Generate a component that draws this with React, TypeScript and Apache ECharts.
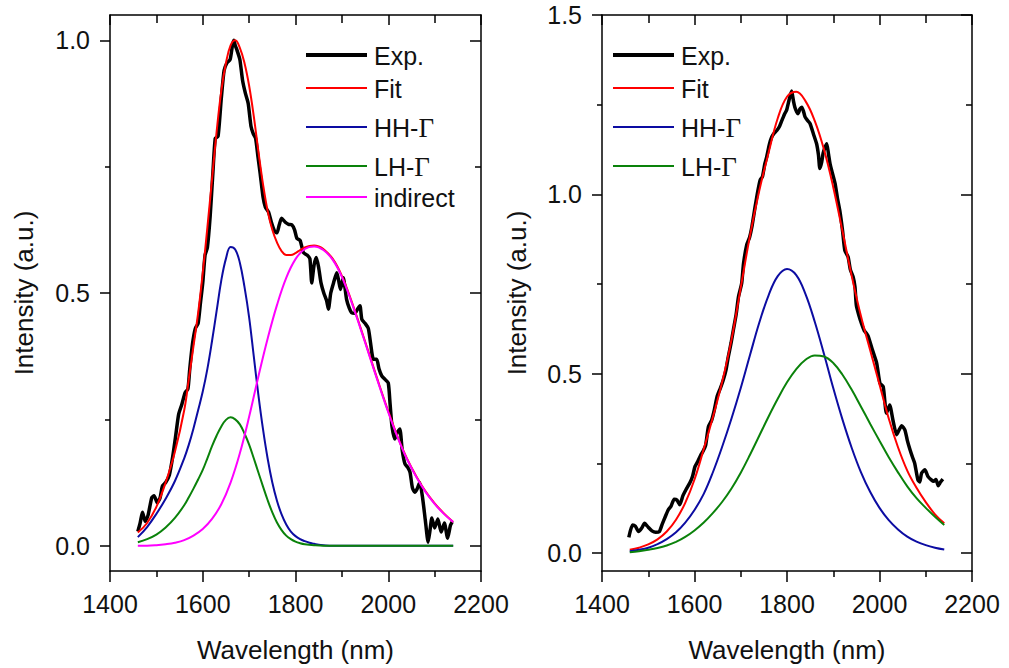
import React, { useEffect, useRef } from 'react';
import * as echarts from 'echarts';

const FONT = '"Liberation Sans", Arial, Helvetica, sans-serif';
const SERIF = '"Liberation Serif", "Times New Roman", serif';

const X_MIN = 1400;
const X_MAX = 2200;
const X_STEP = 200;

const LEFT_Y_MAJOR = [0, 0.5, 1.0];
const LEFT_Y_MINOR = [0.25, 0.75];
const RIGHT_Y_MAJOR = [0, 0.5, 1.0, 1.5];
const RIGHT_Y_MINOR = [0.25, 0.75, 1.25];

const LEFT_LEGEND = ['Exp.', 'Fit', 'HH-{g|Γ}', 'LH-{g|Γ}', 'indirect'];
const RIGHT_LEGEND = ['Exp.', 'Fit', 'HH-{g|Γ}', 'LH-{g|Γ}'];

const COLORS = ['#000000', '#ff0000', '#0c0ca2', '#0a820a', '#ff00ff'];

// ---------- left panel ----------
const LEFT_EXP = [
  [1460, 0.028], [1465, 0.045], [1470, 0.066], [1476, 0.048], [1482, 0.06], [1490, 0.095],
  [1495, 0.099], [1502, 0.085], [1508, 0.095], [1513, 0.118], [1520, 0.125], [1528, 0.14],
  [1535, 0.175], [1542, 0.22], [1548, 0.26], [1555, 0.28], [1562, 0.303], [1568, 0.31],
  [1572, 0.35], [1578, 0.4], [1584, 0.43], [1590, 0.44], [1595, 0.48], [1600, 0.52],
  [1605, 0.575], [1610, 0.59], [1616, 0.652], [1622, 0.74], [1627, 0.806], [1633, 0.81],
  [1640, 0.885], [1646, 0.94], [1652, 0.955], [1659, 0.962], [1664, 0.99], [1667, 1.0],
  [1670, 0.99], [1674, 0.98], [1680, 0.962], [1686, 0.92], [1692, 0.895], [1698, 0.875],
  [1704, 0.83], [1709, 0.815], [1714, 0.806], [1719, 0.77], [1724, 0.735], [1730, 0.69],
  [1735, 0.67], [1742, 0.66], [1748, 0.64], [1755, 0.622], [1760, 0.619], [1765, 0.635],
  [1770, 0.648], [1778, 0.64], [1785, 0.636], [1792, 0.635], [1798, 0.625], [1803, 0.608],
  [1810, 0.604], [1817, 0.58], [1825, 0.575], [1831, 0.568], [1835, 0.52], [1840, 0.555],
  [1845, 0.57], [1850, 0.55], [1855, 0.52], [1861, 0.5], [1867, 0.485], [1871, 0.468],
  [1876, 0.5], [1882, 0.52], [1889, 0.54], [1893, 0.525], [1897, 0.507], [1903, 0.53],
  [1910, 0.488], [1916, 0.47], [1921, 0.461], [1928, 0.46], [1935, 0.47], [1939, 0.475],
  [1943, 0.448], [1950, 0.44], [1957, 0.43], [1962, 0.4], [1968, 0.369], [1975, 0.369],
  [1980, 0.35], [1986, 0.336], [1993, 0.329], [2000, 0.322], [2004, 0.28], [2008, 0.237],
  [2014, 0.211], [2020, 0.225], [2025, 0.231], [2030, 0.19], [2036, 0.162], [2042, 0.155],
  [2047, 0.145], [2052, 0.115], [2057, 0.106], [2062, 0.112], [2068, 0.125], [2074, 0.095],
  [2080, 0.05], [2086, 0.007], [2090, 0.03], [2094, 0.055], [2100, 0.035], [2107, 0.053],
  [2114, 0.027], [2121, 0.045], [2128, 0.015], [2134, 0.04], [2138, 0.047],
];

const LEFT_FIT = [
  [1460, 0.026], [1480, 0.045], [1500, 0.077], [1520, 0.125], [1540, 0.186], [1560, 0.268],
  [1570, 0.33], [1580, 0.395], [1590, 0.46], [1600, 0.54], [1610, 0.63], [1620, 0.725],
  [1630, 0.82], [1640, 0.9], [1650, 0.955], [1660, 0.99], [1670, 1.0], [1680, 0.985],
  [1690, 0.955], [1700, 0.91], [1710, 0.85], [1720, 0.78], [1730, 0.715], [1740, 0.662],
  [1750, 0.625], [1760, 0.6], [1770, 0.583], [1780, 0.575], [1790, 0.575], [1800, 0.579],
  [1810, 0.585], [1820, 0.59], [1830, 0.593], [1840, 0.594], [1850, 0.592], [1860, 0.587],
  [1880, 0.568], [1900, 0.534], [1920, 0.486], [1940, 0.432], [1960, 0.376], [1980, 0.32],
  [2000, 0.266], [2020, 0.216], [2040, 0.173], [2060, 0.138], [2080, 0.108], [2100, 0.084],
  [2120, 0.064], [2140, 0.047],
];

const LEFT_HH = [
  [1460, 0.017], [1480, 0.037], [1500, 0.063], [1520, 0.093], [1540, 0.128], [1560, 0.173],
  [1570, 0.2], [1580, 0.232], [1590, 0.268], [1600, 0.305], [1610, 0.35], [1620, 0.405],
  [1630, 0.465], [1640, 0.525], [1650, 0.568], [1660, 0.591], [1670, 0.586], [1680, 0.56],
  [1690, 0.512], [1700, 0.452], [1710, 0.375], [1720, 0.298], [1730, 0.23], [1740, 0.172],
  [1750, 0.125], [1760, 0.089], [1770, 0.062], [1780, 0.042], [1790, 0.028], [1800, 0.019],
  [1810, 0.013], [1820, 0.009], [1830, 0.006], [1840, 0.004], [1850, 0.002], [1860, 0.001],
  [1880, 0], [1900, 0], [2000, 0], [2140, 0],
];

const LEFT_LH = [
  [1460, 0.007], [1480, 0.013], [1500, 0.022], [1520, 0.036], [1540, 0.055], [1560, 0.08],
  [1570, 0.096], [1580, 0.113], [1590, 0.131], [1600, 0.15], [1610, 0.173], [1620, 0.197],
  [1630, 0.218], [1640, 0.236], [1650, 0.249], [1660, 0.254], [1670, 0.25], [1680, 0.24],
  [1690, 0.222], [1700, 0.2], [1710, 0.173], [1720, 0.145], [1730, 0.117], [1740, 0.09],
  [1750, 0.066], [1760, 0.046], [1770, 0.031], [1780, 0.02], [1790, 0.013], [1800, 0.008],
  [1810, 0.005], [1820, 0.003], [1840, 0.001], [1860, 0], [1900, 0], [2000, 0], [2140, 0],
];

const LEFT_IND = [
  [1460, 0], [1480, 0], [1500, 0.001], [1520, 0.003], [1540, 0.006], [1560, 0.011],
  [1580, 0.02], [1600, 0.033], [1620, 0.053], [1640, 0.082], [1660, 0.125], [1680, 0.183],
  [1700, 0.255], [1720, 0.335], [1740, 0.41], [1760, 0.476], [1780, 0.53], [1800, 0.567],
  [1820, 0.587], [1840, 0.592], [1860, 0.585], [1880, 0.566], [1900, 0.532], [1920, 0.484],
  [1940, 0.43], [1960, 0.374], [1980, 0.318], [2000, 0.264], [2020, 0.215], [2040, 0.172],
  [2060, 0.137], [2080, 0.107], [2100, 0.083], [2120, 0.063], [2140, 0.047],
];

// ---------- right panel ----------
const RIGHT_EXP = [
  [1458, 0.044], [1466, 0.078], [1472, 0.075], [1479, 0.06], [1486, 0.07], [1492, 0.083],
  [1500, 0.072], [1508, 0.062], [1516, 0.058], [1524, 0.06], [1530, 0.08], [1537, 0.102],
  [1543, 0.12], [1549, 0.13], [1556, 0.15], [1562, 0.148], [1568, 0.135], [1575, 0.16],
  [1582, 0.178], [1590, 0.196], [1596, 0.215], [1601, 0.241], [1607, 0.255], [1613, 0.272],
  [1619, 0.285], [1624, 0.3], [1630, 0.352], [1637, 0.37], [1643, 0.4], [1649, 0.437],
  [1656, 0.46], [1662, 0.482], [1668, 0.51], [1673, 0.547], [1679, 0.585], [1684, 0.622],
  [1690, 0.665], [1695, 0.714], [1702, 0.752], [1706, 0.807], [1713, 0.86], [1719, 0.88],
  [1724, 0.909], [1731, 0.965], [1737, 1.01], [1742, 1.04], [1747, 1.05], [1752, 1.085],
  [1756, 1.104], [1762, 1.14], [1767, 1.16], [1772, 1.17], [1778, 1.178], [1784, 1.19],
  [1789, 1.206], [1795, 1.225], [1799, 1.234], [1803, 1.255], [1806, 1.271], [1810, 1.288],
  [1814, 1.26], [1817, 1.243], [1821, 1.23], [1824, 1.225], [1828, 1.238], [1832, 1.243],
  [1836, 1.23], [1839, 1.216], [1845, 1.205], [1850, 1.197], [1857, 1.169], [1864, 1.141],
  [1868, 1.11], [1871, 1.072], [1875, 1.09], [1878, 1.114], [1882, 1.13], [1886, 1.141],
  [1890, 1.11], [1893, 1.086], [1898, 1.06], [1904, 1.03], [1909, 0.99], [1914, 0.956],
  [1920, 0.9], [1925, 0.844], [1932, 0.826], [1937, 0.79], [1943, 0.77], [1947, 0.742],
  [1950, 0.69], [1956, 0.66], [1961, 0.64], [1967, 0.62], [1972, 0.612], [1976, 0.603],
  [1985, 0.565], [1994, 0.529], [2001, 0.473], [2008, 0.464], [2015, 0.39], [2022, 0.413],
  [2029, 0.371], [2037, 0.33], [2043, 0.345], [2048, 0.355], [2055, 0.343], [2060, 0.315],
  [2066, 0.288], [2072, 0.265], [2076, 0.251], [2083, 0.204], [2087, 0.198], [2091, 0.223],
  [2098, 0.232], [2105, 0.213], [2112, 0.204], [2117, 0.2], [2122, 0.205], [2127, 0.188],
  [2132, 0.198], [2137, 0.206],
];

const RIGHT_FIT = [
  [1460, 0.009], [1480, 0.015], [1500, 0.024], [1520, 0.038], [1540, 0.06], [1560, 0.093],
  [1580, 0.14], [1600, 0.205], [1620, 0.29], [1640, 0.38], [1660, 0.478], [1680, 0.595],
  [1700, 0.74], [1720, 0.885], [1740, 1.01], [1760, 1.115], [1780, 1.212], [1800, 1.272],
  [1820, 1.286], [1840, 1.26], [1860, 1.205], [1880, 1.125], [1900, 1.02], [1920, 0.897],
  [1940, 0.772], [1960, 0.66], [1980, 0.565], [2000, 0.47], [2020, 0.375], [2040, 0.295],
  [2060, 0.23], [2080, 0.182], [2100, 0.142], [2120, 0.108], [2140, 0.083],
];

const RIGHT_HH = [
  [1460, 0.005], [1480, 0.009], [1500, 0.015], [1520, 0.025], [1540, 0.039], [1560, 0.058],
  [1580, 0.085], [1600, 0.12], [1620, 0.165], [1640, 0.226], [1660, 0.297], [1680, 0.375],
  [1700, 0.46], [1720, 0.552], [1740, 0.642], [1760, 0.718], [1780, 0.772], [1800, 0.792],
  [1820, 0.775], [1840, 0.722], [1860, 0.645], [1880, 0.555], [1900, 0.46], [1920, 0.372],
  [1940, 0.293], [1960, 0.225], [1980, 0.17], [2000, 0.126], [2020, 0.092], [2040, 0.066],
  [2060, 0.046], [2080, 0.032], [2100, 0.022], [2120, 0.015], [2140, 0.01],
];

const RIGHT_LH = [
  [1460, 0.002], [1480, 0.005], [1500, 0.009], [1520, 0.014], [1540, 0.021], [1560, 0.031],
  [1580, 0.045], [1600, 0.063], [1620, 0.085], [1640, 0.112], [1660, 0.143], [1680, 0.18],
  [1700, 0.224], [1720, 0.274], [1740, 0.327], [1760, 0.38], [1780, 0.43], [1800, 0.476],
  [1820, 0.513], [1840, 0.539], [1860, 0.551], [1880, 0.548], [1900, 0.53], [1920, 0.497],
  [1940, 0.455], [1960, 0.408], [1980, 0.36], [2000, 0.313], [2020, 0.267], [2040, 0.225],
  [2060, 0.186], [2080, 0.153], [2100, 0.126], [2120, 0.101], [2140, 0.078],
];

const AXIS_LINE = { color: '#000', width: 1.5 };

function xAxes(gridIndex: number) {
  const base = {
    type: 'value',
    gridIndex,
    min: X_MIN,
    max: X_MAX,
    interval: X_STEP,
    splitLine: { show: false },
    axisLine: { show: true, onZero: false, lineStyle: AXIS_LINE },
  };
  return [
    {
      ...base,
      position: 'bottom',
      axisTick: { show: true, inside: false, length: 11, lineStyle: AXIS_LINE },
      minorTick: { show: true, splitNumber: 2, length: 6, lineStyle: AXIS_LINE },
      axisLabel: {
        show: true,
        margin: 20,
        fontSize: 25,
        color: '#111',
        fontFamily: FONT,
        formatter: (v: number) => String(v),
      },
      name: 'Wavelength (nm)',
      nameLocation: 'middle',
      nameGap: 66,
      nameTextStyle: { fontSize: 26, color: '#111', fontFamily: FONT },
    },
    {
      ...base,
      position: 'top',
      axisTick: { show: true, inside: true, length: 10, lineStyle: AXIS_LINE },
      minorTick: { show: true, splitNumber: 2, length: 8, lineStyle: AXIS_LINE },
      axisLabel: { show: false },
    },
  ];
}

function yAxes(gridIndex: number, yMax: number, majors: number[], minors: number[], nameGap: number) {
  const base = {
    type: 'value',
    gridIndex,
    min: -0.05,
    max: yMax,
    splitLine: { show: false },
  };
  return [
    {
      ...base,
      position: 'left',
      axisLine: { show: true, onZero: false, lineStyle: AXIS_LINE },
      axisTick: { show: true, inside: false, length: 10, customValues: majors, lineStyle: AXIS_LINE },
      axisLabel: {
        show: true,
        customValues: majors,
        margin: 20,
        fontSize: 25,
        color: '#111',
        fontFamily: FONT,
        formatter: (v: number) => v.toFixed(1),
      },
      name: 'Intensity (a.u.)',
      nameLocation: 'middle',
      nameGap,
      nameTextStyle: { fontSize: 26, color: '#111', fontFamily: FONT },
    },
    {
      ...base,
      position: 'left',
      axisLine: { show: false },
      axisTick: { show: true, inside: false, length: 5, customValues: minors, lineStyle: AXIS_LINE },
      axisLabel: { show: false },
    },
    {
      ...base,
      position: 'right',
      axisLine: { show: true, onZero: false, lineStyle: AXIS_LINE },
      axisTick: { show: true, inside: true, length: 11, customValues: majors, lineStyle: AXIS_LINE },
      axisLabel: { show: false },
    },
    {
      ...base,
      position: 'right',
      axisLine: { show: false },
      axisTick: { show: true, inside: true, length: 6, customValues: minors, lineStyle: AXIS_LINE },
      axisLabel: { show: false },
    },
  ];
}

function lineSeries(data: number[][], xi: number, yi: number, color: string, width: number, smooth: boolean | number) {
  return {
    type: 'line',
    xAxisIndex: xi,
    yAxisIndex: yi,
    data,
    showSymbol: false,
    symbol: 'none',
    smooth,
    lineStyle: { color, width },
    itemStyle: { color },
    emphasis: { disabled: true },
    silent: true,
  };
}

const LEGEND_ROWS = [55, 88, 127, 166, 197];

function legendGraphics(labels: string[], lineX0: number, lineX1: number, textX: number) {
  const els: any[] = [];
  labels.forEach((label, i) => {
    const y = LEGEND_ROWS[i];
    els.push({
      type: 'line',
      shape: { x1: lineX0, y1: y, x2: lineX1, y2: y },
      style: { stroke: COLORS[i], lineWidth: i === 0 ? 4 : 2 },
      silent: true,
    });
    els.push({
      type: 'text',
      x: textX,
      y: y + 1,
      silent: true,
      style: {
        text: label,
        fill: '#111',
        fontSize: 25,
        fontFamily: FONT,
        align: 'left',
        verticalAlign: 'middle',
        textAlign: 'left',
        textVerticalAlign: 'middle',
        rich: {
          g: { fontSize: 27, fontFamily: SERIF, fill: '#111', verticalAlign: 'middle' },
        },
      },
    });
  });
  return els;
}

export default function App() {
  const ref = useRef<HTMLDivElement>(null);

  useEffect(() => {
    if (!ref.current) return;
    const chart = echarts.init(ref.current, undefined, { renderer: 'svg' });
    const option: any = {
      animation: false,
      backgroundColor: '#ffffff',
      grid: [
        { left: 110, top: 15, width: 371, height: 556, containLabel: false, outerBoundsMode: 'none' },
        { left: 602, top: 15, width: 370, height: 556, containLabel: false, outerBoundsMode: 'none' },
      ],
      xAxis: [...xAxes(0), ...xAxes(1)],
      yAxis: [
        ...yAxes(0, 1.05, LEFT_Y_MAJOR, LEFT_Y_MINOR, 73),
        ...yAxes(1, 1.5, RIGHT_Y_MAJOR, RIGHT_Y_MINOR, 72),
      ],
      series: [
        lineSeries(LEFT_EXP, 0, 0, COLORS[0], 3.5, 0.2),
        lineSeries(LEFT_FIT, 0, 0, COLORS[1], 2, 0.4),
        lineSeries(LEFT_HH, 0, 0, COLORS[2], 2, 0.4),
        lineSeries(LEFT_LH, 0, 0, COLORS[3], 2, 0.4),
        lineSeries(LEFT_IND, 0, 0, COLORS[4], 2, 0.4),
        lineSeries(RIGHT_EXP, 2, 4, COLORS[0], 3.5, 0.2),
        lineSeries(RIGHT_FIT, 2, 4, COLORS[1], 2, 0.4),
        lineSeries(RIGHT_HH, 2, 4, COLORS[2], 2, 0.4),
        lineSeries(RIGHT_LH, 2, 4, COLORS[3], 2, 0.4),
      ],
      graphic: [
        ...legendGraphics(LEFT_LEGEND, 306, 367, 374),
        ...legendGraphics(RIGHT_LEGEND, 613, 674, 681),
      ],
    };
    chart.setOption(option);
    return () => chart.dispose();
  }, []);

  return (
    <div
      ref={ref}
      style={{ position: 'absolute', left: 0, top: 0, width: 1009, height: 668, background: '#fff' }}
    />
  );
}
